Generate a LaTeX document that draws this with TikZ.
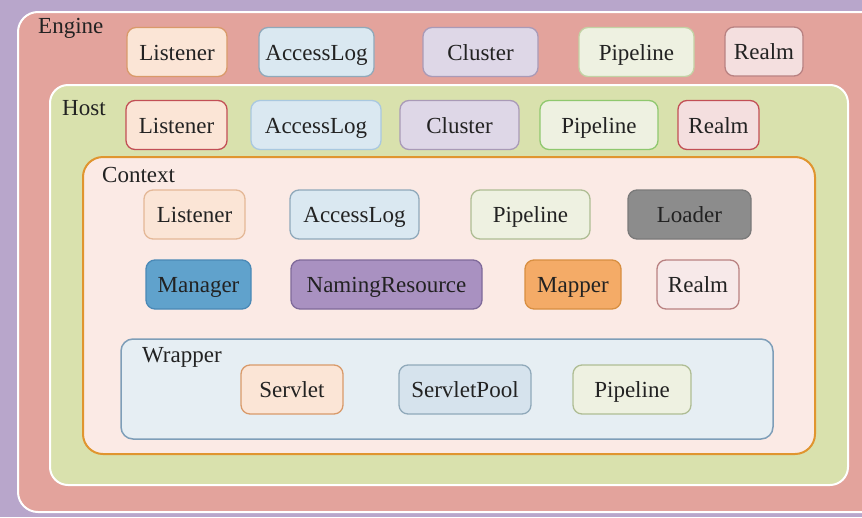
\documentclass[tikz,border=0pt]{standalone}
\usepackage{fontspec}
\setmainfont{Liberation Serif}
\usetikzlibrary{positioning}

\definecolor{bgpurple}{HTML}{B8A6CB}
\definecolor{enginefill}{HTML}{E3A39C}
\definecolor{hostfill}{HTML}{D9E1AD}
\definecolor{ctxfill}{HTML}{FBEAE5}
\definecolor{ctxline}{HTML}{E0952F}
\definecolor{wrapfill}{HTML}{E6EEF3}
\definecolor{wrapline}{HTML}{7E9EB8}
\definecolor{peachfill}{HTML}{FBE5D6}
\definecolor{peachline}{HTML}{D99A6A}
\definecolor{bluefill}{HTML}{DAE8F1}
\definecolor{poolfill}{HTML}{D6E3ED}
\definecolor{blueline}{HTML}{90A9BA}
\definecolor{lilacfill}{HTML}{DED7E7}
\definecolor{lilacline}{HTML}{A99AB7}
\definecolor{greenfill}{HTML}{EEF1E1}
\definecolor{greenline}{HTML}{C3D2A4}
\definecolor{rosefill}{HTML}{F4DFDF}
\definecolor{roseline}{HTML}{B98282}
\definecolor{redline}{HTML}{C24F55}
\definecolor{brightgreen}{HTML}{8FC86E}
\definecolor{skyline}{HTML}{A9C8E0}
\definecolor{loaderfill}{HTML}{8C8C8C}
\definecolor{loaderline}{HTML}{7A7A7A}
\definecolor{managerfill}{HTML}{60A2CC}
\definecolor{managerline}{HTML}{4A89B6}
\definecolor{namingfill}{HTML}{A991C1}
\definecolor{namingline}{HTML}{7F6A9A}
\definecolor{mapperfill}{HTML}{F4AB67}
\definecolor{mapperline}{HTML}{D88F41}
\definecolor{textgrey}{HTML}{222222}

\tikzstyle{container} = [rectangle, draw=white, line width=2pt, inner sep=0pt]
\tikzstyle{title} = [anchor=west, inner sep=0pt, text=textgrey]
\tikzstyle{comp} = [rectangle, rounded corners=9pt, text centered, line width=1.3pt, inner sep=0pt, minimum height=49pt, text height=17pt, text depth=1pt, text=textgrey]

\begin{document}
\begin{tikzpicture}[x=1pt, y=-1pt, font=\fontsize{23}{27}\selectfont]
  \useasboundingbox (0,0) rectangle (862,517);
  \fill [bgpurple] (0,0) rectangle (862,517);

  % containers
  \node (engine) [container, fill=enginefill, rounded corners=20pt, minimum width=880pt, minimum height=500pt] at (458,262) {};
  \node (host) [container, fill=hostfill, rounded corners=18pt, minimum width=798pt, minimum height=400pt] at (449,285) {};
  \node (context) [container, draw=ctxline, fill=ctxfill, rounded corners=20pt, minimum width=732pt, minimum height=297pt] at (449,305.5) {};
  \node (wrapper) [container, draw=wrapline, fill=wrapfill, line width=1.5pt, rounded corners=12pt, minimum width=652pt, minimum height=100pt] at (447,389) {};

  \node (enginetitle) [title] at (38,28) {Engine};
  \node (hosttitle) [title] at (62,108) {Host};
  \node (contexttitle) [title] at (102,175) {Context};
  \node (wrappertitle) [title] at (142,357) {Wrapper};

  % engine
  \node (elistener) [comp, fill=peachfill, draw=peachline, minimum width=100pt] at (177,52) {Listener};
  \node (eaccesslog) [comp, fill=bluefill, draw=blueline, minimum width=115pt] at (316.5,52) {AccessLog};
  \node (ecluster) [comp, fill=lilacfill, draw=lilacline, minimum width=115pt] at (480.5,52) {Cluster};
  \node (epipeline) [comp, fill=greenfill, draw=greenline, minimum width=115pt] at (636.5,52) {Pipeline};
  \node (erealm) [comp, fill=rosefill, draw=roseline, minimum width=78pt] at (764,51.5) {Realm};

  % host
  \node (hlistener) [comp, fill=peachfill, draw=redline, minimum width=101pt] at (176.5,125) {Listener};
  \node (haccesslog) [comp, fill=bluefill, draw=skyline, minimum width=130pt] at (316,125) {AccessLog};
  \node (hcluster) [comp, fill=lilacfill, draw=lilacline, minimum width=119pt] at (459.5,125) {Cluster};
  \node (hpipeline) [comp, fill=greenfill, draw=brightgreen, minimum width=118pt] at (599,125) {Pipeline};
  \node (hrealm) [comp, fill=rosefill, draw=redline, minimum width=81pt] at (718.5,125) {Realm};

  % context
  \node (clistener) [comp, fill=peachfill, draw=peachline!70, minimum width=101pt] at (194.5,214.5) {Listener};
  \node (caccesslog) [comp, fill=bluefill, draw=blueline, minimum width=129pt] at (354.5,214.5) {AccessLog};
  \node (cpipeline) [comp, fill=greenfill, draw=greenline!90!black, minimum width=119pt] at (530.5,214.5) {Pipeline};
  \node (cloader) [comp, fill=loaderfill, draw=loaderline, minimum width=123pt] at (689.5,214.5) {Loader};
  \node (cmanager) [comp, fill=managerfill, draw=managerline, minimum width=105pt] at (198.5,284.5) {Manager};
  \node (cnaming) [comp, fill=namingfill, draw=namingline, minimum width=191pt] at (386.5,284.5) {NamingResource};
  \node (cmapper) [comp, fill=mapperfill, draw=mapperline, minimum width=96pt] at (573,284.5) {Mapper};
  \node (crealm) [comp, fill=rosefill!70!white, draw=roseline, minimum width=82pt] at (698,284.5) {Realm};

  % wrapper
  \node (wservlet) [comp, fill=peachfill, draw=peachline, minimum width=102pt] at (292,389.5) {Servlet};
  \node (wservletpool) [comp, fill=poolfill, draw=blueline, minimum width=132pt] at (465,389.5) {ServletPool};
  \node (wpipeline) [comp, fill=greenfill, draw=greenline!90!black, minimum width=118pt] at (632,389.5) {Pipeline};
\end{tikzpicture}
\end{document}
